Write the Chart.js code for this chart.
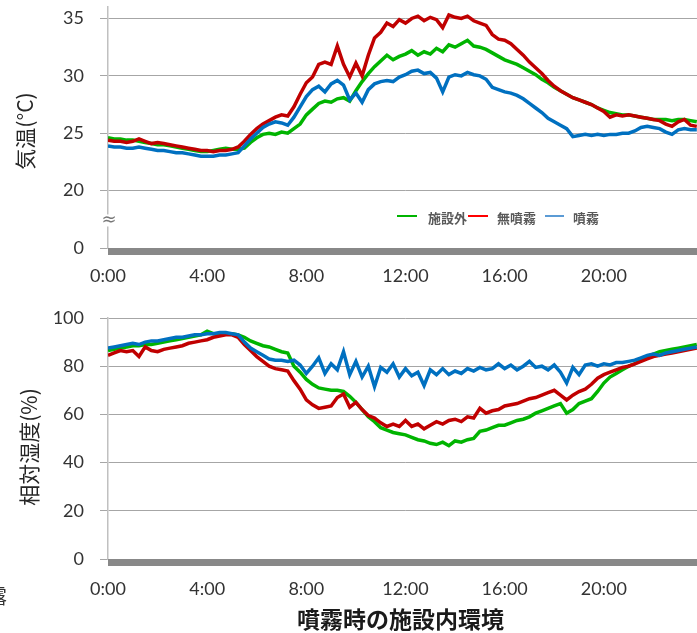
<!DOCTYPE html>
<html><head><meta charset="utf-8">
<script src="https://cdn.jsdelivr.net/npm/chart.js@4.4.1/dist/chart.umd.min.js"></script>
<style>
html,body{margin:0;padding:0;background:#fff;overflow:hidden;width:697px;height:633px;}
#wrap{position:relative;width:697px;height:633px;overflow:hidden;}
canvas{position:absolute;left:0;}
#c1{top:0;}
#c2{top:300px;}
.ytitle{position:absolute;transform:translate(-50%,-50%) rotate(-90deg);white-space:nowrap;font:21px "Noto Sans CJK JP";color:#262626;}
.lg{position:absolute;top:208px;font:bold 13px "Noto Sans CJK JP";color:#595959;white-space:nowrap;}
.sw{position:absolute;top:215px;height:2px;}
#title{position:absolute;left:297px;top:601px;font:bold 23px "Noto Sans CJK JP";color:#1a1a1a;white-space:nowrap;}
#cut{position:absolute;left:-13px;top:581px;font:20px "Noto Sans CJK JP";color:#333;}
</style>
</head><body>
<div id="wrap">
<canvas id="c1" width="710" height="300"></canvas>
<canvas id="c2" width="710" height="311"></canvas>
<div class="ytitle" style="left:24px;top:131px;">気温(°C)</div>
<div class="ytitle" style="left:28px;top:447px;">相対湿度(%)</div>
<div class="sw" style="left:397px;width:20px;background:#00b400;"></div>
<div class="lg" style="left:428px;">施設外</div>
<div class="sw" style="left:468px;width:20px;background:#ff0000;"></div>
<div class="lg" style="left:497px;">無噴霧</div>
<div class="sw" style="left:545px;width:19px;background:#5b9bd5;"></div>
<div class="lg" style="left:573px;">噴霧</div>
<div id="title">噴霧時の施設内環境</div>
<div id="cut">露</div>
</div>
<script>
// Sampling interval of the readings (hours); series start at 0:00
const STEP_H = 0.25;
const xTicks = [0, 4, 8, 12, 16, 20];
const seriesNames = ['施設外', '無噴霧', '噴霧'];

// Air temperature (°C)
const tempOutside = [24.6,24.5,24.5,24.4,24.4,24.3,24.2,24.1,24.0,24.0,23.9,23.8,23.7,23.6,23.5,23.4,
 23.4,23.5,23.6,23.7,23.6,23.6,23.7,24.2,24.6,24.9,25.0,24.9,25.1,25.0,25.4,25.8,
 26.6,27.1,27.6,27.8,27.7,28.0,28.1,27.8,28.7,29.5,30.2,30.8,31.3,31.8,31.4,31.7,
 31.9,32.2,31.8,32.1,31.9,32.4,32.1,32.7,32.5,32.8,33.1,32.6,32.5,32.3,32.0,31.7,
 31.4,31.2,31.0,30.7,30.4,30.1,29.7,29.4,29.0,28.7,28.4,28.1,27.9,27.7,27.5,27.2,
 27.0,26.8,26.7,26.6,26.6,26.5,26.4,26.3,26.2,26.2,26.2,26.1,26.2,26.2,26.1,26.0];
const tempNoSpray = [24.4,24.3,24.3,24.2,24.3,24.5,24.3,24.1,24.2,24.1,24.0,23.9,23.8,23.7,23.6,23.5,
 23.5,23.4,23.5,23.5,23.6,23.8,24.3,24.9,25.4,25.8,26.1,26.4,26.6,26.5,27.3,28.4,
 29.4,29.9,31.0,31.2,31.0,32.6,31.0,29.9,31.1,30.0,31.8,33.3,33.8,34.6,34.3,34.9,
 34.6,35.0,35.2,34.8,35.1,34.9,34.2,35.3,35.1,35.0,35.2,34.8,34.6,34.4,33.6,33.2,
 33.1,32.8,32.3,31.8,31.2,30.7,30.2,29.6,29.1,28.7,28.4,28.1,27.9,27.7,27.5,27.2,
 26.9,26.4,26.6,26.5,26.6,26.5,26.4,26.3,26.2,26.1,25.8,25.6,26.0,26.2,25.7,25.6];
const tempSpray = [23.9,23.8,23.8,23.7,23.7,23.8,23.7,23.6,23.5,23.5,23.4,23.3,23.3,23.2,23.1,23.0,
 23.0,23.0,23.1,23.1,23.2,23.3,23.9,24.5,25.0,25.5,25.8,26.0,25.9,25.7,26.4,27.3,
 28.2,28.8,29.1,28.6,29.3,29.6,29.2,27.9,28.5,27.7,28.8,29.3,29.5,29.6,29.5,29.9,
 30.1,30.4,30.5,30.2,30.3,29.8,28.6,29.9,30.1,30.0,30.3,30.1,30.0,29.7,29.0,28.8,
 28.6,28.5,28.3,28.0,27.6,27.2,26.8,26.3,26.0,25.7,25.4,24.7,24.8,24.9,24.8,24.9,
 24.8,24.9,24.9,25.0,25.0,25.2,25.5,25.6,25.5,25.4,25.1,24.9,25.3,25.4,25.3,25.3];

// Relative humidity (%)
const rhOutside = [86.5,87.0,87.5,88.0,88.5,88.5,89.0,89.0,89.5,90.0,90.5,91.0,91.5,92.0,92.5,93.0,
 94.5,93.5,93.0,93.5,93.5,93.0,92.0,90.5,89.5,88.5,88.0,87.0,86.0,85.5,80.0,77.5,
 74.5,72.5,71.0,70.5,70.0,70.0,69.5,67.5,65.0,62.0,59.0,57.0,54.5,53.5,52.5,52.0,
 51.5,50.5,49.5,49.0,48.0,47.5,48.5,47.0,49.0,48.5,49.5,50.0,53.0,53.5,54.5,55.5,
 55.5,56.5,57.5,58.0,59.0,60.5,61.5,62.5,63.5,64.5,60.5,62.0,64.5,65.5,66.5,69.5,
 73.0,75.5,77.0,78.5,80.0,81.0,82.5,84.0,85.0,86.0,86.5,87.0,87.5,88.0,88.5,89.0];
const rhNoSpray = [84.5,85.5,86.5,86.0,86.5,84.0,88.0,86.5,86.0,87.0,87.5,88.0,88.5,89.5,90.0,90.5,
 91.0,92.0,92.5,93.0,93.0,92.0,89.0,86.5,84.0,82.0,80.0,79.0,78.5,78.0,74.0,70.5,
 66.0,64.0,62.5,63.0,63.5,67.0,68.5,63.0,65.0,62.0,59.5,58.5,56.5,55.0,56.0,55.0,
 57.5,55.0,56.0,54.0,55.5,57.0,56.0,57.5,58.0,57.0,59.0,58.5,62.5,60.5,61.5,62.0,
 63.5,64.0,64.5,65.5,66.5,67.0,68.0,69.0,70.0,68.0,66.0,68.0,69.5,70.5,72.5,75.0,
 76.5,77.5,78.5,79.5,80.0,81.0,82.0,83.0,84.0,84.5,85.0,85.5,86.0,86.5,87.0,87.5];
const rhSpray = [87.5,88.0,88.5,89.0,89.5,89.0,90.0,90.5,90.5,91.0,91.5,92.0,92.0,92.5,93.0,93.0,
 93.5,93.5,94.0,94.0,93.5,93.0,90.0,87.5,86.0,84.5,83.0,82.5,82.5,82.0,82.5,80.5,
 77.0,80.0,83.5,77.0,81.0,78.5,86.0,76.5,82.0,75.5,80.0,71.5,79.5,77.5,81.0,75.5,
 79.0,76.0,77.5,72.0,78.5,76.5,79.0,76.5,78.0,77.0,79.0,78.0,79.5,78.5,79.0,81.0,
 79.0,80.5,78.5,80.0,82.0,79.5,80.0,78.5,80.5,77.5,73.0,79.5,76.5,80.5,81.0,80.0,
 81.0,80.5,81.5,81.5,82.0,82.5,83.5,84.5,85.0,84.5,85.5,86.0,86.5,87.0,87.5,88.0];

const tempTicks = [15, 20, 25, 30, 35];   // 15 is the broken-axis position labelled "0"
const rhTicks = [0, 20, 40, 60, 80, 100];

const colors = ['#00b400', '#c00000', '#0070c0'];
const FONT = 'Lato, "Noto Sans", sans-serif';

function pts(arr){ return arr.map((v,i)=>({x:i*STEP_H, y:v})); }

const axisBar = {
  id:'axisBar',
  afterDraw(chart){
    const {ctx, chartArea:a} = chart;
    ctx.save();
    ctx.fillStyle = '#888888';
    ctx.fillRect(a.left, a.bottom, a.right - a.left, 7);
    if (chart.options.plugins.axisBar && chart.options.plugins.axisBar.breakAt !== undefined) {
      const y = chart.scales.y.getPixelForValue(chart.options.plugins.axisBar.breakAt);
      ctx.fillStyle = '#fff';
      ctx.fillRect(a.left - 3, y - 6, 6, 12);
      ctx.fillStyle = '#777';
      ctx.font = '18px "DejaVu Sans"';
      ctx.textAlign = 'center';
      ctx.textBaseline = 'middle';
      ctx.fillText('≈', a.left + 1, y);
    }
    ctx.restore();
  }
};

function makeChart(id, sets, yMin, yMax, yTicks, yLabel, padTop, breakAt, xPad){
  return new Chart(document.getElementById(id), {
    type:'line',
    data:{ datasets: sets.map((s,k)=>({
      label: seriesNames[k], data: pts(s), borderColor: colors[k], borderWidth: 3.5,
      pointRadius: 0, tension: 0, fill:false, order: 3-k
    }))},
    options:{
      responsive:false, animation:false, devicePixelRatio:1,
      layout:{ padding:{ top:padTop, right:7, left:0, bottom:0 } },
      plugins:{ legend:{display:false}, tooltip:{enabled:false}, axisBar:{breakAt} },
      scales:{
        x:{ type:'linear', min:0, max:24,
          afterBuildTicks: sc => { sc.ticks = xTicks.map(v=>({value:v})); },
          afterFit: sc => { sc.height = 52; },
          ticks:{ callback: v => v + ':00', font:{family:FONT, size:18}, color:'#333', padding:xPad, maxRotation:0, autoSkip:false },
          grid:{ display:false, drawTicks:false },
          border:{ display:false }
        },
        y:{ min:yMin, max:yMax,
          afterBuildTicks: sc => { sc.ticks = yTicks.map(v=>({value:v})); },
          afterFit: sc => { sc.width = 108; sc.paddingTop = 0; sc.paddingBottom = 0; },
          ticks:{ callback: yLabel, font:{family:FONT, size:18}, color:'#333', padding:16, autoSkip:false },
          grid:{ color: c => (c.tick && c.tick.value === yMin) ? 'rgba(0,0,0,0)' : '#a6a6a6',
                 tickColor:'#a6a6a6', tickLength:8, lineWidth:1 },
          border:{ color:'#c0c0c0', width:1.5 }
        }
      }
    },
    plugins:[axisBar]
  });
}

makeChart('c1', [tempOutside, tempNoSpray, tempSpray], 15, 36, tempTicks,
  v => v === 15 ? '0' : String(v), 7, 17.4, 17);
makeChart('c2', [rhOutside, rhNoSpray, rhSpray], 0, 100, rhTicks,
  v => String(v), 18, undefined, 19);
</script>
</body></html>
